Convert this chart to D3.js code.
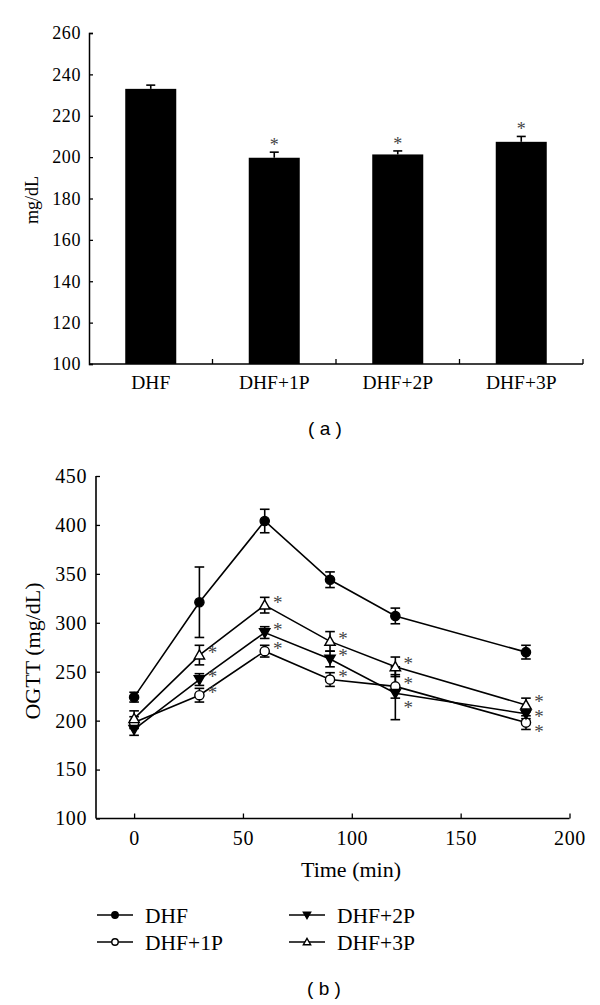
<!DOCTYPE html>
<html><head><meta charset="utf-8">
<script src="https://cdn.jsdelivr.net/npm/d3@7"></script>
<style>
html,body{margin:0;padding:0;background:#fff;}
svg{display:block;}
.sf{font-family:"Liberation Serif","Times New Roman",Times,"DejaVu Serif",serif;}
.ss{font-family:"Liberation Sans",Arial,"DejaVu Sans",sans-serif;}
</style>
</head><body>
<svg id="chart" width="600" height="1005"></svg>
<script>
// ---- Panel (a) data ----
const barCategories = ["DHF", "DHF+1P", "DHF+2P", "DHF+3P"];
const barValues = [233, 199.7, 201.3, 207.4];
const barErrors = [1.8, 2.7, 1.7, 2.6];
const barStars = [false, true, true, true];
const barYTicks = [100, 120, 140, 160, 180, 200, 220, 240, 260];

// ---- Panel (b) data ----
const times = [0, 30, 60, 90, 120, 180];
const seriesNames = ["DHF", "DHF+1P", "DHF+2P", "DHF+3P"];
const dhfValues = [224, 321, 404, 344, 307, 270];
const dhfErrors = [5, 36, 12, 8, 8, 7];
const p1Values = [198, 226, 271, 242, 235, 198];
const p1Errors = [6, 7, 6, 7, 12, 7];
const p2Values = [191, 242, 290, 263, 228, 207];
const p2Errors = [6, 6, 6, 8, 27, 5];
const p3Values = [202, 267, 318, 281, 255, 216];
const p3Errors = [8, 10, 8, 10, 10, 7];
const lineXTicks = [0, 50, 100, 150, 200];
const lineYTicks = [100, 150, 200, 250, 300, 350, 400, 450];

const svg = d3.select("#chart");

// =============== Panel (a) ===============
{
  const x = d3.scaleBand().domain(barCategories).range([89, 583])
    .paddingInner(0.587).paddingOuter(0.2935);
  const y = d3.scaleLinear().domain([100, 260]).range([364, 33]);
  const g = svg.append("g");

  g.selectAll("rect.bar").data(barCategories).join("rect")
    .attr("x", d => x(d)).attr("width", x.bandwidth())
    .attr("y", (d, i) => y(barValues[i]))
    .attr("height", (d, i) => y(100) - y(barValues[i]))
    .attr("fill", "#000");

  barCategories.forEach((c, i) => {
    const cx = x(c) + x.bandwidth() / 2;
    const top = y(barValues[i] + barErrors[i]);
    g.append("line").attr("x1", cx).attr("x2", cx)
      .attr("y1", y(barValues[i])).attr("y2", top)
      .attr("stroke", "#000").attr("stroke-width", 1.6);
    g.append("line").attr("x1", cx - 4.5).attr("x2", cx + 4.5)
      .attr("y1", top).attr("y2", top)
      .attr("stroke", "#000").attr("stroke-width", 1.6);
    if (barStars[i]) {
      g.append("text").attr("class", "sf").attr("x", cx).attr("y", top - 1)
        .attr("text-anchor", "middle")
        .style("font-size", "18px").style("fill", "#444")
        .text("*");
    }
  });

  const yAxis = g.append("g").attr("transform", "translate(89,0)")
    .call(d3.axisRight(y).tickValues(barYTicks).tickSize(4).tickFormat(d3.format("d")));
  yAxis.attr("font-family", null).attr("font-size", null);
  yAxis.select(".domain").attr("stroke", "#000").attr("stroke-width", 1.5);
  yAxis.selectAll(".tick line").attr("stroke", "#000").attr("stroke-width", 1.3);
  yAxis.selectAll(".tick text").attr("class", "sf").attr("x", -8).attr("text-anchor", "end")
    .style("font-size", "18px").style("letter-spacing", "0.6px").style("fill", "#000");

  const xAxisLine = g.append("g");
  xAxisLine.append("line").attr("x1", 89).attr("x2", 583)
    .attr("y1", 364).attr("y2", 364).attr("stroke", "#000").attr("stroke-width", 1.6);
  const bounds = barCategories.map(c => x(c) - x.step() * x.paddingInner() / 2).slice(1)
    .concat([583]);
  bounds.forEach(bx => {
    xAxisLine.append("line").attr("x1", bx).attr("x2", bx)
      .attr("y1", 364).attr("y2", 359).attr("stroke", "#000").attr("stroke-width", 1.3);
  });
  g.selectAll("text.xl").data(barCategories).join("text")
    .attr("class", "sf")
    .attr("x", d => x(d) + x.bandwidth() / 2).attr("y", 389)
    .attr("text-anchor", "middle")
    .style("font-size", "19.5px").style("fill", "#000")
    .text(d => d);

  g.append("text").attr("class", "sf").attr("transform", "translate(38,200) rotate(-90)")
    .attr("text-anchor", "middle")
    .style("font-size", "18px").style("fill", "#000")
    .text("mg/dL");

  g.append("text").attr("class", "ss").attr("x", 325).attr("y", 435).attr("text-anchor", "middle")
    .style("font-size", "19px").style("fill", "#000")
    .text("( a )");
}

// =============== Panel (b) ===============
{
  const x = d3.scaleLinear().domain([-17.5, 200]).range([96, 569.5]);
  const y = d3.scaleLinear().domain([100, 450]).range([818.5, 476]);
  const g = svg.append("g");

  const series = [
    { name: seriesNames[0], vals: dhfValues, errs: dhfErrors, shape: "circle", fill: "#000", star: false },
    { name: seriesNames[1], vals: p1Values, errs: p1Errors, shape: "circle", fill: "#fff", star: true },
    { name: seriesNames[2], vals: p2Values, errs: p2Errors, shape: "down", fill: "#000", star: true },
    { name: seriesNames[3], vals: p3Values, errs: p3Errors, shape: "up", fill: "#fff", star: true }
  ];

  const line = d3.line().x((d, i) => x(times[i])).y(d => y(d));

  function marker(sel, shape, fill, cx, cy, s) {
    if (shape === "circle") {
      sel.append("circle").attr("cx", cx).attr("cy", cy).attr("r", 4.6 * s)
        .attr("fill", fill).attr("stroke", "#000").attr("stroke-width", 1.4);
    } else {
      const h = 5.2 * s;
      const pts = shape === "up"
        ? [[cx, cy - h], [cx - h, cy + h * 0.75], [cx + h, cy + h * 0.75]]
        : [[cx, cy + h], [cx - h, cy - h * 0.75], [cx + h, cy - h * 0.75]];
      sel.append("polygon").attr("points", pts.map(p => p.join(",")).join(" "))
        .attr("fill", fill).attr("stroke", "#000").attr("stroke-width", 1.4);
    }
  }

  series.forEach(s => {
    g.append("path").datum(s.vals).attr("d", line)
      .attr("fill", "none").attr("stroke", "#000").attr("stroke-width", 1.6);
  });
  series.forEach(s => {
    s.vals.forEach((v, i) => {
      const cx = x(times[i]);
      const t = y(v + s.errs[i]), b = y(v - s.errs[i]);
      g.append("line").attr("x1", cx).attr("x2", cx).attr("y1", t).attr("y2", b)
        .attr("stroke", "#000").attr("stroke-width", 1.6);
      [t, b].forEach(yy => g.append("line").attr("x1", cx - 4.8).attr("x2", cx + 4.8)
        .attr("y1", yy).attr("y2", yy).attr("stroke", "#000").attr("stroke-width", 1.6));
    });
  });
  series.forEach(s => {
    s.vals.forEach((v, i) => marker(g, s.shape, s.fill, x(times[i]), y(v), 1));
  });

  // asterisks: desired centre slightly above each point, then stacked to avoid overlap
  times.forEach((t, i) => {
    if (t === 0) return;
    const stars = series.filter(s => s.star).map(s => ({
      cy: s.errs[i] > 20 ? y(s.vals[i]) + 11 : y(s.vals[i]) - 6
    })).sort((a, b) => a.cy - b.cy);
    for (let k = 1; k < stars.length; k++) {
      if (stars[k].cy - stars[k - 1].cy < 15) stars[k].cy = stars[k - 1].cy + 15;
    }
    stars.forEach(st => {
      g.append("text").attr("class", "sf").attr("x", x(t) + 13).attr("y", st.cy + 9.5)
        .attr("text-anchor", "middle")
        .style("font-size", "19px").style("fill", "#444")
        .text("*");
    });
  });

  const yAxis = g.append("g").attr("transform", "translate(96,0)")
    .call(d3.axisRight(y).tickValues(lineYTicks).tickSize(4).tickFormat(d3.format("d")));
  yAxis.attr("font-family", null).attr("font-size", null);
  yAxis.select(".domain").attr("stroke", "#000").attr("stroke-width", 1.6)
    .attr("d", `M0,${y(450)}V${y(100)}`);
  yAxis.selectAll(".tick line").attr("stroke", "#000").attr("stroke-width", 1.3);
  yAxis.selectAll(".tick text").attr("class", "sf").attr("x", -9).attr("text-anchor", "end")
    .style("font-size", "20px").style("letter-spacing", "0.6px").style("fill", "#000");

  const xAxis = g.append("g").attr("transform", `translate(0,${y(100)})`)
    .call(d3.axisTop(x).tickValues(lineXTicks).tickSize(5).tickFormat(d3.format("d")));
  xAxis.attr("font-family", null).attr("font-size", null);
  xAxis.select(".domain").attr("stroke", "#000").attr("stroke-width", 1.6)
    .attr("d", `M96,0H569.5`);
  xAxis.selectAll(".tick line").attr("stroke", "#000").attr("stroke-width", 1.3);
  xAxis.selectAll(".tick text").attr("class", "sf").attr("y", 26).attr("dy", 0)
    .style("font-size", "20px").style("letter-spacing", "0.6px").style("fill", "#000");

  g.append("text").attr("class", "sf").attr("x", 351).attr("y", 877).attr("text-anchor", "middle")
    .style("font-size", "22px").style("fill", "#000")
    .text("Time (min)");
  g.append("text").attr("class", "sf").attr("transform", "translate(40,651) rotate(-90)")
    .attr("text-anchor", "middle")
    .style("font-size", "22px").style("fill", "#000")
    .text("OGTT (mg/dL)");

  const legendOrder = [0, 2, 1, 3];
  const lx = [97, 289], ly = [915, 942];
  legendOrder.forEach((si, k) => {
    const s = series[si];
    const col = k % 2, row = Math.floor(k / 2);
    const x0 = lx[col], yy = ly[row];
    g.append("line").attr("x1", x0).attr("x2", x0 + 36).attr("y1", yy).attr("y2", yy)
      .attr("stroke", "#000").attr("stroke-width", 1.6);
    marker(g, s.shape, s.fill, x0 + 18, yy, 0.7);
    g.append("text").attr("class", "sf").attr("x", x0 + 48).attr("y", yy + 7.5)
      .style("font-size", "21.5px").style("fill", "#000")
      .text(s.name);
  });

  g.append("text").attr("class", "ss").attr("x", 324).attr("y", 995).attr("text-anchor", "middle")
    .style("font-size", "19px").style("fill", "#000")
    .text("( b )");
}
</script>
</body></html>
